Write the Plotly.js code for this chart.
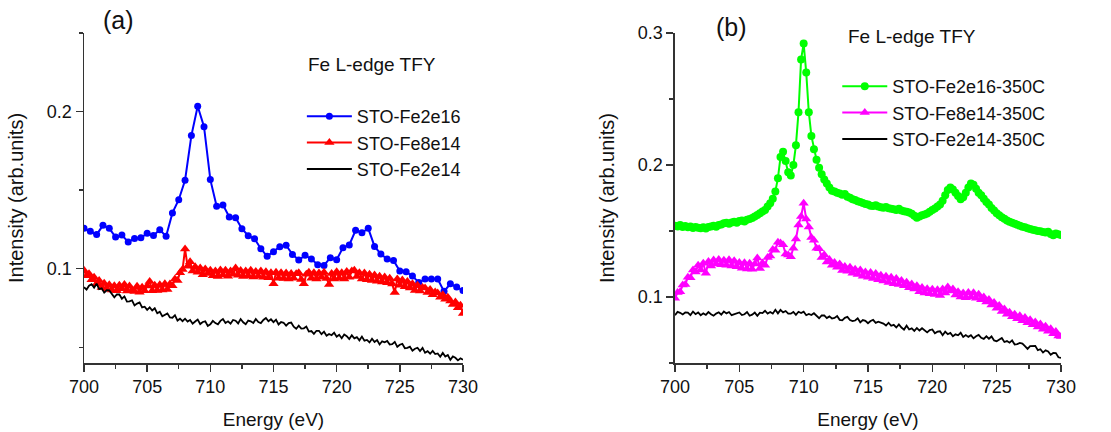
<!DOCTYPE html>
<html><head><meta charset="utf-8">
<script src="https://cdn.plot.ly/plotly-3.0.1.min.js"></script>
<style>html,body{margin:0;padding:0;background:#fff}#chart{width:1111px;height:432px}</style>
</head><body><div id="chart"></div>
<script>
// Energy sampling grids (eV)
const energyStart = 700, energyEnd = 730;
const stepCoarse = 0.5, stepFine = 0.2;
function energyGrid(step){ const n = Math.round((energyEnd-energyStart)/step); const a=[]; for(let i=0;i<=n;i++) a.push(+(energyStart+i*step).toFixed(2)); return a; }
const energyCoarse = energyGrid(stepCoarse);
const energyFine = energyGrid(stepFine);

// Panel (a)
const a_Fe2e16 = [0.1257,0.1238,0.1217,0.1276,0.1257,0.1202,0.1214,0.1170,0.1193,0.1197,
0.1225,0.1212,0.1248,0.1206,0.1355,0.1439,0.1563,0.1847,0.2034,0.1904,
0.1567,0.1397,0.1406,0.1329,0.1325,0.1255,0.1210,0.1191,0.1127,0.1079,
0.1108,0.1140,0.1149,0.1091,0.1055,0.1085,0.1062,0.1025,0.1021,0.1070,
0.1057,0.1134,0.1151,0.1244,0.1229,0.1257,0.1142,0.1093,0.1062,0.1053,
0.0985,0.0981,0.0953,0.0913,0.0934,0.0934,0.0934,0.0856,0.0904,0.0883,0.0862];

const a_Fe8e14 = [
0.0990,0.0955,0.0968,0.0930,0.0945, 0.0905,0.0925,0.0880,0.0908,0.0872,
0.0898,0.0865,0.0892,0.0860,0.0895, 0.0872,0.0900,0.0858,0.0890,0.0865,
0.0855,0.0888,0.0850,0.0882,0.0860, 0.0890,0.0918,0.0860,0.0895,0.0862,
0.0898,0.0865,0.0905,0.0868,0.0902, 0.0892,0.0935,0.0925,0.0975,0.0995,
0.1125,0.1015,0.1045,0.0985,0.1012, 0.0978,0.1005,0.0962,0.0998,0.0970,
0.0990,0.0955,0.0985,0.0950,0.0992, 0.0960,0.0990,0.0952,0.0985,0.0965,
0.1005,0.0958,0.0988,0.0950,0.0985, 0.0955,0.0990,0.0948,0.0982,0.0952,
0.0985,0.0945,0.0980,0.0942,0.0975, 0.0905,0.0978,0.0940,0.0975,0.0938,
0.0972,0.0935,0.0970,0.0940,0.0968, 0.0975,0.0932,0.0905,0.0965,0.0978,
0.0940,0.0975,0.0935,0.0972,0.0945, 0.0978,0.0938,0.0900,0.0970,0.0935,
0.0980,0.0940,0.0975,0.0935,0.0982, 0.0945,0.0985,0.0990,0.0950,0.0975,
0.0935,0.0972,0.0930,0.0965,0.0925, 0.0960,0.0920,0.0952,0.0915,0.0948,
0.0910,0.0940,0.0902,0.0848,0.0935, 0.0895,0.0928,0.0885,0.0918,0.0878,
0.0905,0.0862,0.0895,0.0858,0.0880, 0.0878,0.0848,0.0868,0.0835,0.0852,
0.0845,0.0818,0.0835,0.0805,0.0818, 0.0795,0.0772,0.0788,0.0752,0.0768,
0.0715];

const a_Fe2e14 = [
0.0882,0.0867,0.0892,0.0901,0.0880, 0.0905,0.0870,0.0875,0.0848,0.0863,
0.0862,0.0841,0.0818,0.0837,0.0836, 0.0809,0.0824,0.0791,0.0792,0.0799,
0.0766,0.0778,0.0786,0.0754,0.0758, 0.0738,0.0754,0.0734,0.0748,0.0716,
0.0726,0.0698,0.0710,0.0716,0.0690, 0.0688,0.0704,0.0670,0.0682,0.0666,
0.0682,0.0664,0.0674,0.0650,0.0664, 0.0676,0.0648,0.0661,0.0665,0.0636,
0.0646,0.0668,0.0654,0.0646,0.0668, 0.0680,0.0655,0.0665,0.0650,0.0674,
0.0669,0.0652,0.0680,0.0659,0.0647, 0.0670,0.0665,0.0654,0.0680,0.0661,
0.0654,0.0674,0.0686,0.0666,0.0678, 0.0660,0.0676,0.0645,0.0661,0.0656,
0.0638,0.0654,0.0657,0.0631,0.0618, 0.0638,0.0619,0.0621,0.0632,0.0600,
0.0603,0.0585,0.0605,0.0605,0.0583, 0.0599,0.0573,0.0585,0.0577,0.0593,
0.0567,0.0580,0.0558,0.0581,0.0571, 0.0552,0.0576,0.0557,0.0565,0.0544,
0.0568,0.0542,0.0547,0.0531,0.0554, 0.0534,0.0546,0.0518,0.0538,0.0532,
0.0540,0.0517,0.0520,0.0534,0.0503, 0.0516,0.0522,0.0494,0.0496,0.0504,
0.0478,0.0491,0.0497,0.0476,0.0496, 0.0465,0.0475,0.0459,0.0477,0.0457,
0.0461,0.0440,0.0464,0.0441,0.0451, 0.0420,0.0442,0.0433,0.0417,0.0430,
0.0420];

// Panel (b)
const b_Fe2e16 = [
0.1540,0.1535,0.1545,0.1530,0.1538, 0.1528,0.1535,0.1522,0.1530,0.1525,
0.1520,0.1528,0.1518,0.1530,0.1535, 0.1540,0.1532,0.1545,0.1550,0.1558,
0.1562,0.1555,0.1565,0.1570,0.1562, 0.1575,0.1580,0.1572,0.1585,0.1590,
0.1598,0.1610,0.1622,0.1635,0.1648, 0.1660,0.1685,0.1710,0.1745,0.1800,
0.1900,0.2060,0.2100,0.2030,0.1945, 0.1920,0.2000,0.2150,0.2400,0.2800,
0.2920,0.2700,0.2400,0.2220,0.2120, 0.2040,0.1980,0.1930,0.1890,0.1860,
0.1830,0.1805,0.1800,0.1790,0.1785, 0.1775,0.1780,0.1760,0.1752,0.1740,
0.1735,0.1725,0.1720,0.1712,0.1705, 0.1700,0.1692,0.1690,0.1695,0.1685,
0.1680,0.1676,0.1682,0.1672,0.1668, 0.1665,0.1660,0.1668,0.1655,0.1650,
0.1645,0.1640,0.1630,0.1615,0.1600, 0.1610,0.1620,0.1625,0.1632,0.1645,
0.1660,0.1670,0.1685,0.1700,0.1730, 0.1770,0.1810,0.1830,0.1815,0.1790,
0.1765,0.1740,0.1755,0.1790,0.1830, 0.1860,0.1850,0.1820,0.1790,0.1770,
0.1745,0.1720,0.1700,0.1675,0.1655, 0.1635,0.1620,0.1605,0.1592,0.1580,
0.1570,0.1562,0.1555,0.1548,0.1540, 0.1532,0.1528,0.1520,0.1515,0.1510,
0.1505,0.1500,0.1498,0.1492,0.1488, 0.1495,0.1478,0.1468,0.1482,0.1475,
0.1470];

const b_Fe8e14 = [
0.0990,0.1035,0.1040,0.1090,0.1095, 0.1150,0.1145,0.1205,0.1190,0.1240,
0.1205,0.1255,0.1180,0.1268,0.1235, 0.1280,0.1250,0.1285,0.1245,0.1278,
0.1240,0.1282,0.1235,0.1275,0.1230, 0.1262,0.1218,0.1260,0.1212,0.1255,
0.1210,0.1250,0.1295,0.1215,0.1258, 0.1240,0.1300,0.1310,0.1360,0.1355,
0.1415,0.1410,0.1395,0.1325,0.1318, 0.1305,0.1370,0.1440,0.1545,0.1610,
0.1710,0.1590,0.1530,0.1450,0.1430, 0.1370,0.1365,0.1300,0.1320,0.1265,
0.1285,0.1240,0.1262,0.1225,0.1250, 0.1200,0.1232,0.1195,0.1225,0.1180,
0.1210,0.1170,0.1205,0.1158,0.1190, 0.1150,0.1185,0.1140,0.1178,0.1130,
0.1165,0.1122,0.1158,0.1110,0.1150, 0.1100,0.1140,0.1095,0.1125,0.1085,
0.1112,0.1070,0.1098,0.1060,0.1085, 0.1040,0.1072,0.1030,0.1062,0.1025,
0.1058,0.1018,0.1055,0.1012,0.1060, 0.1030,0.1075,0.1045,0.1060,0.1015,
0.1040,0.1000,0.1030,0.0995,0.1035, 0.1000,0.1032,0.0990,0.1020,0.0980,
0.1000,0.0962,0.0982,0.0940,0.0958, 0.0915,0.0935,0.0890,0.0910,0.0870,
0.0885,0.0850,0.0870,0.0835,0.0858, 0.0820,0.0845,0.0805,0.0828,0.0790,
0.0810,0.0772,0.0795,0.0755,0.0778, 0.0740,0.0760,0.0722,0.0738,0.0705,
0.0700];

const b_Fe2e14 = [
0.0862,0.0887,0.0880,0.0868,0.0883, 0.0882,0.0863,0.0890,0.0870,0.0883,
0.0862,0.0876,0.0864,0.0886,0.0870, 0.0858,0.0874,0.0884,0.0866,0.0890,
0.0876,0.0886,0.0862,0.0868,0.0879, 0.0883,0.0863,0.0869,0.0886,0.0858,
0.0866,0.0882,0.0857,0.0881,0.0878, 0.0896,0.0875,0.0886,0.0874,0.0903,
0.0876,0.0902,0.0884,0.0894,0.0874, 0.0874,0.0887,0.0865,0.0888,0.0878,
0.0889,0.0862,0.0872,0.0863,0.0877, 0.0856,0.0839,0.0860,0.0861,0.0840,
0.0853,0.0837,0.0842,0.0856,0.0827, 0.0823,0.0842,0.0849,0.0826,0.0817,
0.0822,0.0839,0.0808,0.0825,0.0820, 0.0801,0.0818,0.0827,0.0804,0.0813,
0.0808,0.0799,0.0784,0.0805,0.0782, 0.0789,0.0769,0.0793,0.0769,0.0753,
0.0783,0.0754,0.0762,0.0743,0.0765, 0.0746,0.0763,0.0744,0.0732,0.0749,
0.0754,0.0725,0.0737,0.0740,0.0710, 0.0737,0.0718,0.0728,0.0703,0.0717,
0.0710,0.0729,0.0697,0.0712,0.0698, 0.0711,0.0687,0.0703,0.0713,0.0691,
0.0683,0.0702,0.0684,0.0701,0.0671, 0.0664,0.0678,0.0689,0.0659,0.0666,
0.0654,0.0671,0.0640,0.0643,0.0652, 0.0647,0.0628,0.0607,0.0628,0.0629,
0.0630,0.0597,0.0604,0.0579,0.0596, 0.0587,0.0562,0.0576,0.0575,0.0543,
0.0538];

const namesA = ['STO-Fe2e16','STO-Fe8e14','STO-Fe2e14'];
const namesB = ['STO-Fe2e16-350C','STO-Fe8e14-350C','STO-Fe2e14-350C'];
const panelLabels = ['(a)','(b)'];
const noteText = 'Fe L-edge TFY';
const xTitle = 'Energy (eV)';
const yTitle = 'Intensity (arb.units)';

const FONT = 'Liberation Sans, Arial, sans-serif';
const axisCol = '#333';

const traces = [
  {x:energyCoarse, y:a_Fe2e16, name:namesA[0], mode:'lines+markers', xaxis:'x', yaxis:'y', legend:'legend',
   line:{color:'#0000ff', width:2}, marker:{symbol:'circle', size:7, color:'#0000ff'}},
  {x:energyFine, y:a_Fe8e14, name:namesA[1], mode:'lines+markers', xaxis:'x', yaxis:'y', legend:'legend',
   line:{color:'#ff0000', width:2}, marker:{symbol:'triangle-up', size:9, color:'#ff0000'}},
  {x:energyFine, y:a_Fe2e14, name:namesA[2], mode:'lines', xaxis:'x', yaxis:'y', legend:'legend',
   line:{color:'#000000', width:1.8}},
  {x:energyFine, y:b_Fe2e16, name:namesB[0], mode:'lines+markers', xaxis:'x2', yaxis:'y2', legend:'legend2',
   line:{color:'#00ff00', width:2}, marker:{symbol:'circle', size:8, color:'#00ff00'}},
  {x:energyFine, y:b_Fe8e14, name:namesB[1], mode:'lines+markers', xaxis:'x2', yaxis:'y2', legend:'legend2',
   line:{color:'#ff00ff', width:2}, marker:{symbol:'triangle-up', size:9, color:'#ff00ff'}},
  {x:energyFine, y:b_Fe2e14, name:namesB[2], mode:'lines', xaxis:'x2', yaxis:'y2', legend:'legend2',
   line:{color:'#000000', width:1.8}}
];

function xAxis(domain, anchor){
  return {domain:domain, anchor:anchor, range:[700,730], tick0:700, dtick:5, ticks:'outside', ticklen:7, tickwidth:1.5,
    tickcolor:axisCol, showline:true, linecolor:axisCol, linewidth:1.5, showgrid:false, zeroline:false,
    minor:{dtick:2.5, ticks:'outside', ticklen:4, tickwidth:1.5, tickcolor:axisCol, showgrid:false},
    tickfont:{size:18, family:FONT, color:'#111'}, automargin:false,
    title:{text:xTitle, font:{size:19, family:FONT, color:'#111'}, standoff:16}};
}
function yAxis(range, anchor){
  return {domain:[0,1], anchor:anchor, range:range, tick0:0, dtick:0.1, ticks:'outside', ticklen:7, tickwidth:1.5,
    tickcolor:axisCol, showline:true, linecolor:axisCol, linewidth:1.5, showgrid:false, zeroline:false,
    minor:{dtick:0.05, ticks:'outside', ticklen:4, tickwidth:1.5, tickcolor:axisCol, showgrid:false},
    tickfont:{size:18, family:FONT, color:'#111'}, automargin:true,
    title:{text:yTitle, font:{size:20, family:FONT, color:'#111'}, standoff:18}};
}

const layout = {
  width:1111, height:432,
  margin:{l:84, r:50, t:33, b:69},
  paper_bgcolor:'#ffffff', plot_bgcolor:'#ffffff',
  font:{family:FONT, color:'#111', size:18},
  showlegend:true,
  xaxis:xAxis([0,0.3879],'y'),
  yaxis:yAxis([0.04,0.25],'x'),
  xaxis2:xAxis([0.6049,1],'y2'),
  yaxis2:yAxis([0.05,0.3],'x2'),
  legend:{x:0.223, xanchor:'left', y:0.803, yanchor:'top', bgcolor:'rgba(0,0,0,0)', itemwidth:45,
    font:{size:18, family:FONT, color:'#111'}},
  legend2:{x:0.771, xanchor:'left', y:0.894, yanchor:'top', bgcolor:'rgba(0,0,0,0)', itemwidth:45,
    font:{size:18, family:FONT, color:'#111'}},
  annotations:[
    {text:panelLabels[0], xref:'paper', yref:'paper', x:0.0358, y:1.039, xanchor:'center', yanchor:'middle', showarrow:false, font:{size:25, family:FONT, color:'#111'}},
    {text:panelLabels[1], xref:'paper', yref:'paper', x:0.663, y:1.018, xanchor:'center', yanchor:'middle', showarrow:false, font:{size:25, family:FONT, color:'#111'}},
    {text:noteText, xref:'paper', yref:'paper', x:0.2948, y:0.906, xanchor:'center', yanchor:'middle', showarrow:false, font:{size:19, family:FONT, color:'#111'}},
    {text:noteText, xref:'paper', yref:'paper', x:0.847, y:0.988, xanchor:'center', yanchor:'middle', showarrow:false, font:{size:19, family:FONT, color:'#111'}}
  ]
};

Plotly.newPlot('chart', traces, layout, {displayModeBar:false, staticPlot:true});
</script></body></html>
